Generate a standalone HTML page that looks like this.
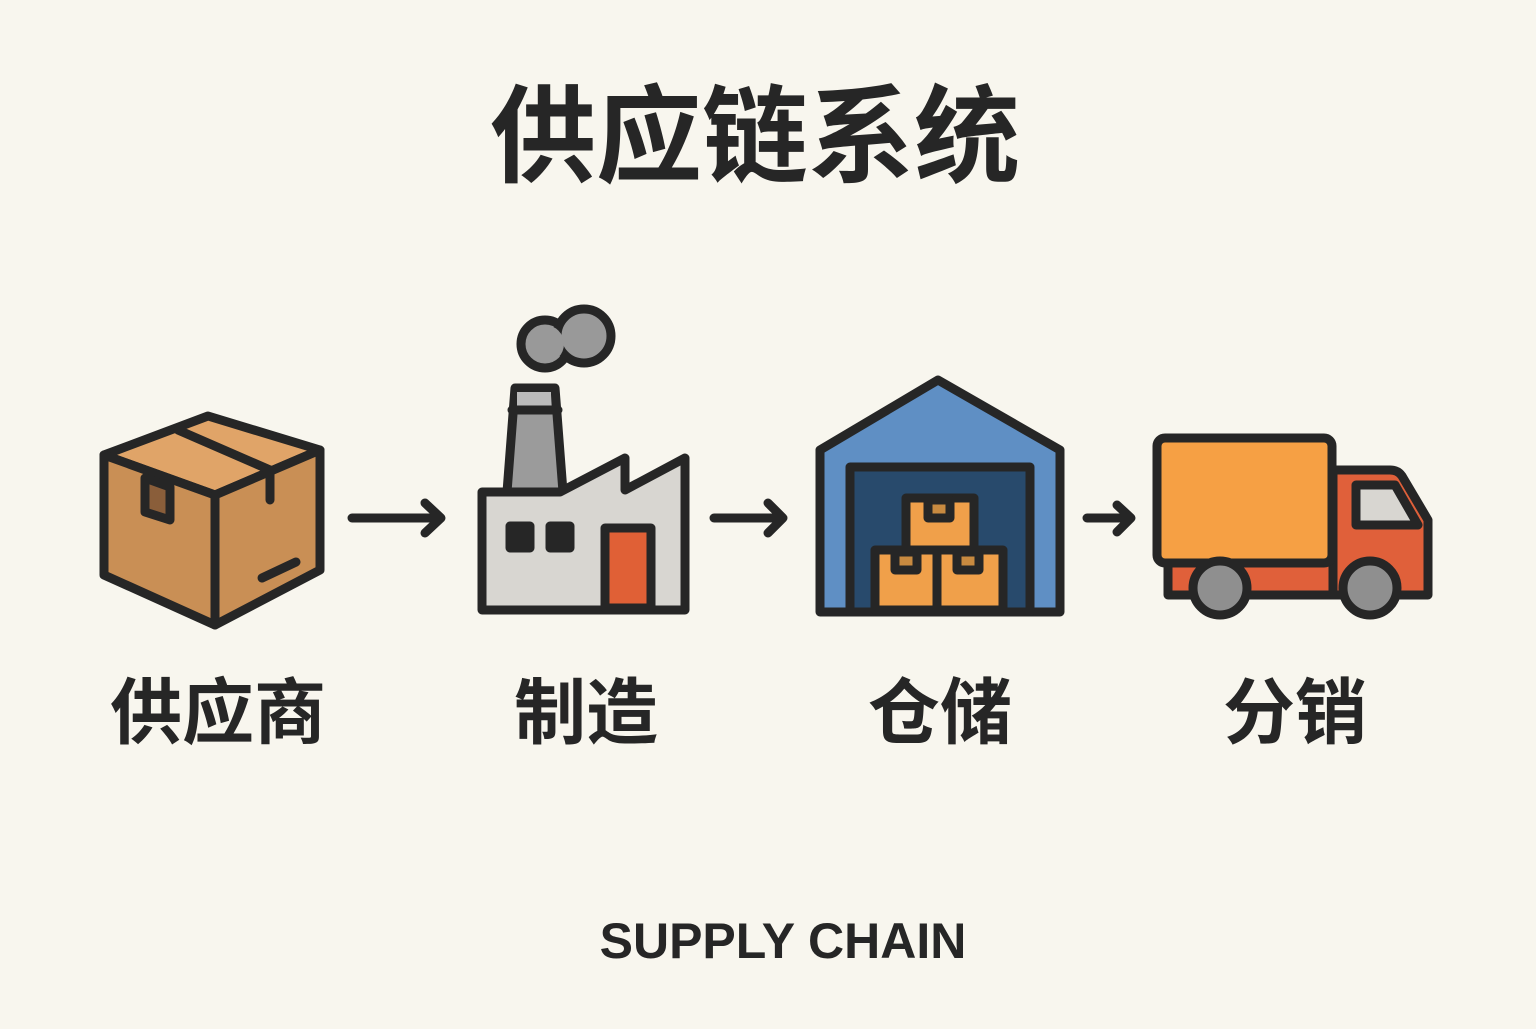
<!DOCTYPE html>
<html><head><meta charset="utf-8"><style>
html,body{margin:0;padding:0;background:#f8f6ee;}
</style></head><body>
<svg width="1536" height="1024" viewBox="0 0 1536 1024" xmlns="http://www.w3.org/2000/svg">
<rect width="1536" height="1024" fill="#f8f6ee"/>
<g font-family="'Liberation Sans','Noto Sans CJK SC',sans-serif" font-weight="bold" fill="#262626" text-anchor="middle">
<text x="755" y="174" font-size="106">供应链系统</text>
<text x="218" y="738" font-size="72">供应商</text>
<text x="586" y="738" font-size="72">制造</text>
<text x="940" y="738" font-size="72">仓储</text>
<text x="1295" y="738" font-size="72">分销</text>
<text x="783" y="958" font-size="50">SUPPLY CHAIN</text>
</g>
<g stroke="#262626" stroke-width="9" stroke-linejoin="round" stroke-linecap="round">
<polygon points="104,455 208,416 320,450 215,495" fill="#e0a468"/>
<polygon points="104,455 215,495 215,625 104,575" fill="#c98f55"/>
<polygon points="215,495 320,450 320,570 215,625" fill="#c98f55"/>
<polyline points="178,430 270,470 270,500" fill="none"/>
<polygon points="145,478 170,487 170,520 145,512" fill="#8a5e3a"/>
<line x1="262" y1="578" x2="296" y2="562"/>
<path d="M352,518 H440 M425,503 L441,518 L425,533" fill="none"/>
<path d="M714,518 H782 M768,503 L783,518 L768,533" fill="none"/>
<path d="M1087,518 H1130 M1117,505 L1131,518 L1117,532" fill="none"/>
<circle cx="545" cy="344" r="24" fill="#999"/>
<circle cx="584" cy="336" r="27" fill="#999"/>
<circle cx="545" cy="344" r="19" fill="#999" stroke="none"/>
<circle cx="584" cy="336" r="22" fill="#999" stroke="none"/>
<polygon points="515,388 555,388 563,492 507,492" fill="#9b9b9b"/>
<rect x="517" y="392" width="34" height="16" fill="#bbb" stroke="none"/>
<line x1="512" y1="410" x2="558" y2="410"/>
<polygon points="482,492 560,492 625,458 625,490 685,458 685,610 482,610" fill="#d8d6d1"/>
<rect x="510" y="526" width="20" height="22" fill="#262626"/>
<rect x="550" y="526" width="20" height="22" fill="#262626"/>
<rect x="605" y="528" width="46" height="80" fill="#e06036"/>
<polygon points="820,450 938,380 1060,450 1060,612 820,612" fill="#5f8fc4"/>
<rect x="850" y="467" width="180" height="145" fill="#284a6c"/>
<rect x="906" y="498" width="68" height="52" fill="#f0a04a"/>
<rect x="875" y="550" width="62" height="60" fill="#f0a04a"/>
<rect x="937" y="550" width="66" height="60" fill="#f0a04a"/>
<rect x="928" y="500" width="22" height="18" fill="#c88a40"/>
<rect x="895" y="552" width="22" height="18" fill="#c88a40"/>
<rect x="957" y="552" width="22" height="18" fill="#c88a40"/>
<rect x="1168" y="560" width="180" height="35" fill="#e0603a"/>
<path d="M1333,470 H1390 Q1398,470 1402,476 L1428,520 V595 H1333 Z" fill="#e0603a"/>
<path d="M1356,485 H1395 L1418,525 H1356 Z" fill="#d8d6d1"/>
<rect x="1157" y="438" width="175" height="125" rx="8" fill="#f6a044"/>
<circle cx="1220" cy="588" r="27" fill="#8f8f8f"/>
<circle cx="1370" cy="588" r="27" fill="#8f8f8f"/>
</g>
</svg>
</body></html>
